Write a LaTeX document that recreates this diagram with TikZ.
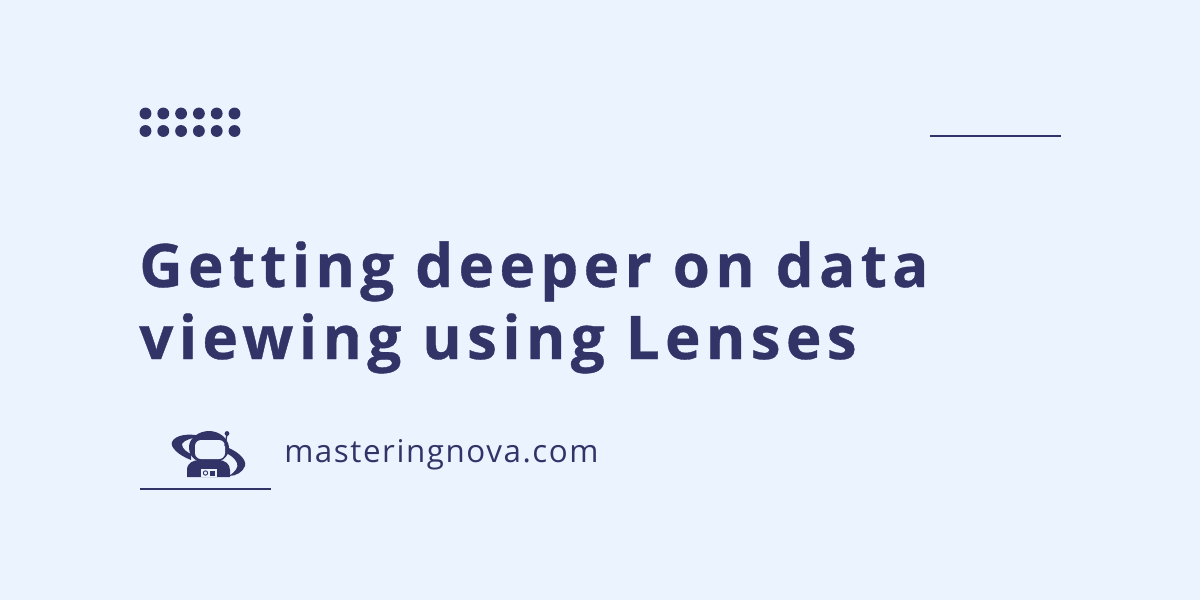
\documentclass[tikz,border=0pt]{standalone}
\usepackage{fontspec}
\setmainfont{Open Sans}
\definecolor{pagebg}{HTML}{EBF3FF}
\definecolor{inkblue}{HTML}{323468}
\tikzset{
  dotmark/.style={fill=inkblue,draw=none,circle,inner sep=0pt,minimum size=8.9pt},
  rulemark/.style={draw=inkblue,line width=1.5pt},
  titletext/.style={text=inkblue,anchor=base west,inner sep=0pt,font=\fontsize{45}{54}\selectfont\bfseries},
  sitetext/.style={text=inkblue,anchor=base west,inner sep=0pt,font=\fontsize{23.5}{28}\selectfont}
}
\begin{document}
\begin{tikzpicture}[x=0.75pt,y=-0.75pt]
\fill[pagebg] (0,0) rectangle (1200,600);
\useasboundingbox (0,0) rectangle (1200,600);
% dots
\foreach \row/\ypos in {0/113.5,1/131}{
  \foreach \col in {0,...,5}{
    \node[dotmark] (dot\row\col) at (145.5+17.8*\col,\ypos) {};
  }
}
% rules
\coordinate (ruleTopL) at (930,135.5);
\coordinate (ruleTopR) at (1061,135.5);
\draw[rulemark] (ruleTopL) -- (ruleTopR);
\coordinate (ruleLowL) at (140,489);
\coordinate (ruleLowR) at (271,489);
\draw[rulemark] (ruleLowL) -- (ruleLowR);
% title
\node[titletext] (titleA) at (139,287) {\addfontfeature{LetterSpace=9,FakeBold=0.6}Getting deeper on data};
\node[titletext] (titleB) at (139,359) {\addfontfeature{LetterSpace=9,FakeBold=0.6}viewing using Lenses};
\node[sitetext] (site) at (284,462) {\addfontfeature{LetterSpace=5}masteringnova.com};
% astronaut
\fill[inkblue] (191,460) .. controls (178,455) and (170,447) .. (172,442)
  .. controls (175,435) and (188,433) .. (201,436)
  .. controls (191,438) and (183,441) .. (182,444)
  .. controls (182,449) and (187,452) .. (191,454) -- cycle;
\fill[inkblue] (226,447) .. controls (238,451) and (247,460) .. (245,466)
  .. controls (243,472) and (236,476) .. (229,476)
  .. controls (235,472) and (239,467) .. (237,463)
  .. controls (235,458) and (230,455) .. (226,453) -- cycle;
\fill[inkblue] (187,477) -- (187,470) .. controls (187,463) and (193,460) .. (200,460)
  -- (218,460) .. controls (225,460) and (230,464) .. (230,470) -- (230,477) -- cycle;
\fill[inkblue] (209,431) .. controls (219,431) and (228,438) .. (229,447)
  .. controls (229,458) and (221,463) .. (209,463)
  .. controls (197,463) and (189,458) .. (189,447)
  .. controls (189,438) and (199,431) .. (209,431) -- cycle;
\fill[pagebg,rounded corners=4.5pt] (195,440) rectangle (225,459);
\draw[inkblue,line width=1pt] (225,446) -- (227,434);
\fill[inkblue] (227,433.5) circle (2.4);
\fill[pagebg] (201,469) rectangle (217,477);
\draw[inkblue,line width=0.7pt] (205.5,473) circle (2.2);
\fill[inkblue] (210,470.5) rectangle (215,475.5);
\end{tikzpicture}
\end{document}
